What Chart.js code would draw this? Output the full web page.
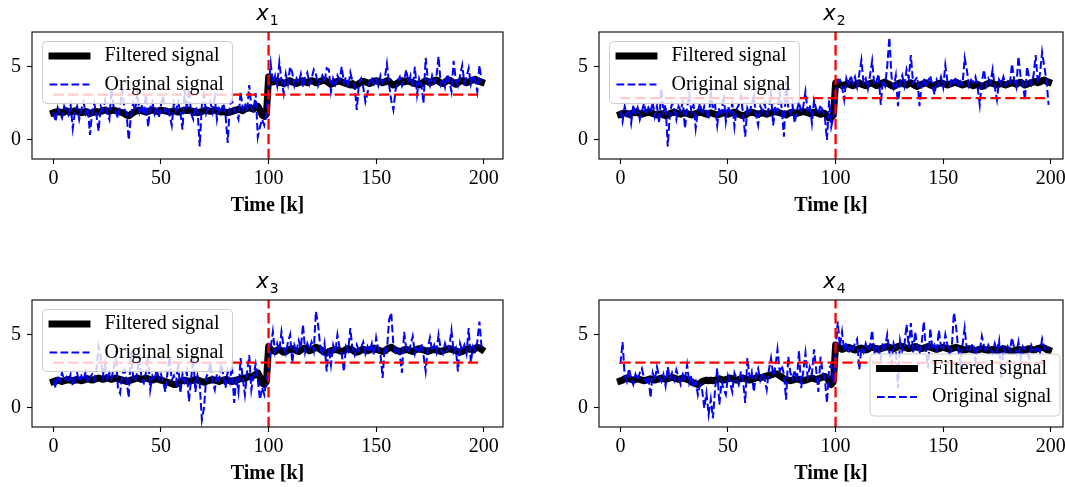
<!DOCTYPE html>
<html><head><meta charset="utf-8">
<script src="https://cdn.jsdelivr.net/npm/chart.js@4"></script>
<style>
html,body{margin:0;padding:0;background:#fff;overflow:hidden;}
#wrap{position:relative;width:1065px;height:487px;overflow:hidden;background:#fff;}
.cv{position:absolute;width:540px;height:243px;}
</style></head><body>
<div id="wrap">
<canvas id="c1" class="cv" width="540" height="243" style="left:0px;top:0px"></canvas>
<canvas id="c2" class="cv" width="540" height="243" style="left:567px;top:0px"></canvas>
<canvas id="c3" class="cv" width="540" height="243" style="left:0px;top:268px"></canvas>
<canvas id="c4" class="cv" width="540" height="243" style="left:567px;top:268px"></canvas>
</div>
<script>
// ---- data ----
const K = Array.from({length:200},(_, i)=>i);   // time index k
const X_TICKS = [0,50,100,150,200];
const Y_TICKS = [0,5];
const CHANGE_K = 100;
const THRESHOLDS = [3.1, 2.85, 3.1, 3.1];
const SUBSCRIPTS = ['1','2','3','4'];
const LEGEND_LABELS = ['Filtered signal','Original signal'];
const X_LABEL = 'Time [k]';

const f1 = [
1.85,1.9,1.95,1.9,1.85,1.9,2.0,1.95,1.9,1.95,
2.0,1.95,1.9,1.85,1.9,1.95,1.9,1.8,1.85,1.9,
1.95,1.9,1.95,2.0,2.05,2.0,1.95,2.0,2.05,2.0,
1.95,1.9,1.85,1.8,1.7,1.65,1.75,1.85,1.95,2.0,
2.05,2.0,1.95,1.9,1.95,2.0,2.05,2.0,1.95,2.0,
2.05,2.0,2.0,1.95,1.9,1.95,2.0,1.95,1.9,1.95,
2.0,2.05,2.0,2.05,2.0,1.95,1.9,1.85,1.9,1.95,
2.0,2.05,2.0,1.95,2.0,2.05,2.0,1.95,1.9,1.95,
1.9,1.85,1.9,1.95,2.0,2.05,2.1,2.05,2.0,2.1,
2.15,2.2,2.15,2.1,2.25,2.3,2.05,1.7,1.6,1.75,
4.3,4.1,3.95,4.0,4.05,3.9,3.95,3.85,3.9,4.0,
4.05,3.95,3.9,3.85,3.9,4.0,4.05,3.95,3.9,4.0,
4.05,4.0,3.9,3.95,4.0,4.05,4.1,4.0,3.9,3.8,
3.85,3.95,4.0,4.05,3.95,3.9,3.85,3.8,3.75,3.85,
3.7,3.75,3.85,3.95,4.0,3.95,3.9,3.85,3.95,4.0,
4.05,4.0,3.95,3.9,3.95,4.05,4.0,3.85,3.75,3.8,
3.9,4.0,4.05,3.95,4.0,4.05,3.95,3.9,3.85,3.8,
3.75,3.85,3.95,4.05,4.0,3.9,3.95,4.05,4.1,4.0,
3.9,3.85,3.95,4.05,4.1,4.0,3.9,3.8,3.9,4.0,
4.05,4.0,3.9,3.95,4.05,4.1,4.15,4.05,4.0,3.95];
const o1 = [
1.9,1.25,2.2,1.8,1.5,2.3,2.0,1.7,2.4,0.8,
1.9,2.3,1.4,2.1,2.6,1.8,2.2,0.35,1.9,2.5,
1.7,0.6,2.3,2.0,2.7,1.8,1.4,3.5,2.2,1.9,
1.5,2.4,3.4,2.1,1.8,0.0,1.6,2.5,2.0,3.2,
1.9,2.4,1.7,3.1,0.9,2.2,2.6,1.8,2.3,1.5,
2.4,3.0,1.9,2.2,1.7,1.0,2.5,2.0,2.6,1.9,
0.7,3.4,2.1,3.5,1.8,1.4,2.3,2.0,-0.45,2.4,
3.1,1.8,2.2,2.6,1.9,2.9,1.4,2.3,2.0,2.5,
1.7,-0.2,2.4,2.7,2.0,1.8,1.4,3.3,2.1,2.5,
1.9,3.75,2.2,2.0,3.2,0.2,0.9,1.4,1.0,1.8,
3.6,5.2,3.9,4.4,3.7,5.3,4.1,3.2,4.5,3.8,
5.0,4.6,3.7,4.2,3.9,4.5,3.6,4.3,4.6,3.8,
4.2,4.8,4.5,3.7,4.1,4.4,3.9,4.9,4.8,3.3,
4.2,3.8,4.4,4.1,5.0,3.9,4.3,3.6,4.6,4.0,
3.7,2.05,3.9,4.2,3.6,2.6,3.2,4.0,4.3,3.8,
4.1,3.7,4.4,3.9,4.2,5.2,3.8,2.7,2.05,3.4,
4.0,4.3,3.7,4.1,4.8,3.9,4.4,3.6,5.0,3.1,
4.2,3.8,2.5,5.6,4.1,3.7,4.4,3.9,4.3,5.7,
3.8,4.2,3.6,4.5,4.0,3.3,5.4,4.1,3.7,4.4,
5.1,3.9,4.3,4.9,3.8,4.4,4.1,3.3,5.1,4.0];
const f2 = [
1.75,1.8,1.85,1.8,1.75,1.8,1.85,1.9,1.85,1.8,
1.75,1.8,1.85,1.9,1.85,1.8,1.75,1.7,1.75,1.8,
1.7,1.65,1.7,1.8,1.85,1.9,1.85,1.8,1.75,1.8,
1.85,1.8,1.75,1.7,1.75,1.8,1.85,1.9,1.85,1.8,
1.75,1.8,1.85,1.8,1.75,1.7,1.75,1.8,1.85,1.8,
1.75,1.8,1.85,1.9,1.85,1.75,1.7,1.65,1.7,1.8,
1.85,1.9,1.85,1.8,1.75,1.8,1.85,1.8,1.75,1.8,
1.85,1.9,1.95,1.9,1.85,1.8,1.75,1.7,1.8,1.85,
1.9,1.85,1.8,1.85,1.9,1.95,1.9,1.85,1.8,1.85,
1.9,1.85,1.8,1.75,1.85,1.8,1.65,1.5,1.55,1.7,
3.9,3.95,3.8,3.7,3.75,3.8,3.85,3.75,3.7,3.75,
3.85,3.9,3.8,3.75,3.7,3.8,3.85,3.9,3.8,3.7,
3.75,3.85,3.9,3.95,3.85,3.8,3.7,3.65,3.75,3.85,
3.9,3.85,3.8,3.75,3.85,3.9,3.8,3.7,3.65,3.75,
3.8,3.85,3.9,3.85,3.75,3.7,3.75,3.8,3.85,3.9,
3.85,3.8,3.75,3.8,3.85,3.9,3.95,3.85,3.8,3.75,
3.8,3.85,3.8,3.75,3.7,3.75,3.8,3.7,3.65,3.7,
3.8,3.85,3.9,3.85,3.8,3.75,3.8,3.85,3.8,3.75,
3.8,3.85,3.9,3.85,3.8,3.9,3.95,3.85,3.75,3.8,
3.85,3.9,3.95,4.0,3.9,3.95,4.05,4.1,4.0,3.95];
const o2 = [
2.0,1.25,2.3,1.7,2.1,1.15,2.4,1.8,2.2,1.4,
2.0,2.5,1.7,2.2,1.9,2.6,1.6,2.3,1.15,3.5,
1.9,2.4,-0.45,1.8,2.5,2.1,1.4,2.3,2.0,2.6,
0.8,2.2,3.1,1.9,2.4,0.8,2.0,2.5,1.7,2.3,
1.9,1.4,3.2,2.1,2.4,1.0,2.2,1.8,3.1,1.25,
2.3,1.9,2.5,0.9,2.1,2.4,3.0,1.8,0.23,2.2,
1.9,2.4,3.0,1.7,1.0,2.3,2.0,2.5,1.8,2.2,
3.2,1.0,2.3,1.9,3.3,2.1,0.23,4.0,2.2,1.8,
2.4,1.15,2.0,2.6,1.9,2.3,3.3,2.0,2.4,1.15,
2.7,2.1,1.8,2.4,2.0,1.6,0.0,2.7,0.9,1.6,
3.4,4.0,4.1,3.6,2.75,4.2,3.7,4.4,3.9,4.3,
3.6,4.5,5.45,3.9,4.2,3.5,4.4,5.4,3.8,4.0,
4.5,2.4,4.1,3.7,5.0,7.0,4.3,3.6,4.4,2.3,
3.9,4.4,3.7,4.8,4.2,5.8,3.9,4.1,4.3,2.3,
3.8,4.2,3.6,4.0,4.4,3.7,3.1,4.1,3.8,4.3,
3.6,5.1,4.0,3.7,4.2,3.9,4.3,3.6,4.0,3.8,
5.6,4.8,3.7,4.1,3.9,4.3,3.6,2.4,4.0,4.8,
3.7,4.2,3.9,4.8,3.6,2.75,4.1,3.8,4.3,3.7,
4.0,3.8,5.2,4.1,3.6,5.7,4.3,3.9,2.75,5.0,
4.2,3.8,4.4,5.8,3.9,4.5,6.0,5.0,4.1,2.4];
const f3 = [
1.8,1.85,1.9,1.85,1.8,1.85,1.9,1.95,1.9,1.85,
1.9,1.95,1.9,1.85,1.9,1.95,2.0,1.95,1.9,1.95,
2.0,2.05,2.0,1.95,2.0,2.05,2.0,1.95,2.0,2.05,
2.0,1.95,1.9,1.85,1.8,1.85,1.9,1.95,2.0,2.05,
2.0,1.95,2.0,2.05,2.0,1.95,1.9,1.95,2.0,1.95,
1.9,1.85,1.8,1.75,1.7,1.65,1.6,1.6,1.7,1.8,
1.85,1.9,1.85,1.8,1.85,1.9,1.95,1.9,1.85,1.8,
1.75,1.8,1.85,1.9,1.95,1.9,1.85,1.8,1.85,1.9,
1.95,1.9,1.85,1.8,1.85,1.9,1.95,2.0,2.05,2.0,
2.1,2.15,2.1,2.2,2.3,2.4,2.1,1.7,1.6,1.8,
4.2,4.0,3.9,3.85,3.95,4.0,3.9,3.8,3.85,3.95,
4.0,4.05,3.95,3.9,3.85,3.95,4.05,4.1,4.0,3.9,
3.95,4.05,4.15,4.1,4.0,3.9,3.8,3.75,3.85,3.9,
3.95,4.0,3.95,3.9,3.85,3.9,4.0,4.05,4.0,3.95,
3.85,3.8,3.85,3.95,4.0,3.95,3.9,3.95,4.05,4.1,
4.0,3.95,3.9,3.85,3.9,4.0,4.1,4.15,4.05,3.95,
3.9,3.85,3.9,3.95,4.0,3.95,3.9,3.85,3.95,4.0,
4.05,4.0,3.95,3.9,3.85,3.9,3.95,4.0,3.95,3.9,
3.85,3.9,3.95,4.0,4.05,4.0,3.95,3.9,3.85,3.8,
3.85,3.95,4.0,4.05,4.0,3.95,4.05,4.15,4.1,4.0];
const o3 = [
1.9,1.36,2.2,1.8,2.4,1.9,2.1,1.7,2.3,1.5,
2.0,2.4,1.8,2.2,1.9,2.5,1.7,2.1,2.3,1.9,
2.6,4.2,3.5,2.2,3.0,1.8,2.4,2.0,2.7,3.75,
1.36,1.0,2.3,2.6,1.9,0.7,3.86,2.2,1.8,2.5,
3.4,2.0,1.7,2.4,3.6,1.25,2.2,1.9,2.6,2.0,
2.3,1.8,1.1,2.4,3.5,1.9,2.2,1.7,3.1,1.0,
2.3,1.8,2.5,0.45,2.0,3.4,1.1,2.2,1.6,-0.8,
0.0,2.1,2.4,3.1,1.8,1.25,2.3,1.9,3.0,2.2,
1.36,2.5,1.8,2.9,0.34,2.1,1.1,3.4,2.0,0.9,
2.4,3.6,1.25,2.2,3.0,1.9,0.57,1.4,0.9,1.8,
2.75,4.1,5.2,3.8,4.4,3.9,5.2,4.2,3.7,4.5,
5.0,3.1,4.3,3.9,4.6,4.1,5.7,3.8,4.4,4.0,
4.5,3.9,6.6,5.7,4.2,3.6,4.4,2.5,4.1,2.95,
4.3,3.8,5.0,4.1,3.7,2.5,4.2,3.9,5.45,4.0,
3.6,4.3,3.9,4.1,4.5,3.7,4.2,3.8,4.4,3.6,
4.8,4.0,3.7,2.05,4.2,3.9,6.0,6.5,4.3,3.8,
4.1,3.6,2.4,5.2,4.0,3.8,4.3,4.9,3.7,4.2,
3.9,4.4,3.6,2.5,4.1,4.8,3.9,4.3,3.8,5.0,
4.0,3.7,4.4,3.9,4.2,5.3,3.8,4.1,2.5,4.4,
3.9,4.3,3.7,5.45,3.1,4.2,3.9,4.5,5.9,4.1];
const f4 = [
1.85,1.9,2.0,2.05,2.0,1.95,1.9,1.95,2.0,1.95,
1.9,1.85,1.9,1.95,2.0,1.95,1.9,1.95,2.0,2.05,
2.0,1.95,2.0,2.05,2.1,2.05,2.0,1.95,2.0,2.05,
2.0,1.95,1.9,1.8,1.7,1.65,1.6,1.7,1.8,1.85,
1.9,1.85,1.9,1.85,1.9,1.95,2.0,1.95,1.9,1.95,
2.0,2.05,2.0,1.95,1.9,1.95,2.0,2.05,2.0,1.95,
1.9,1.95,2.0,2.05,2.1,2.05,2.1,2.15,2.2,2.2,
2.25,2.3,2.35,2.3,2.2,2.1,2.0,1.95,1.9,1.85,
1.9,1.95,2.0,1.95,1.9,1.85,1.9,1.95,2.0,2.05,
2.0,1.95,2.0,2.05,2.1,2.15,2.05,1.8,1.6,1.8,
4.3,4.2,4.1,4.0,4.05,4.1,4.15,4.1,4.0,3.95,
4.0,4.05,4.1,4.0,3.95,4.0,4.1,4.15,4.1,4.05,
4.0,4.05,4.1,4.15,4.2,4.15,4.1,4.05,4.1,4.2,
4.25,4.2,4.15,4.1,4.05,4.1,4.15,4.2,4.15,4.1,
4.05,4.1,4.15,4.2,4.15,4.1,4.05,4.0,4.05,4.1,
4.15,4.1,4.05,4.0,4.05,4.1,4.15,4.1,4.05,4.0,
3.95,4.0,4.05,4.0,3.95,3.9,3.95,4.0,4.05,4.0,
3.95,3.9,3.95,4.0,3.95,3.9,3.95,4.0,4.05,4.0,
3.95,3.9,3.85,3.9,3.95,4.0,3.95,3.9,3.95,4.0,
4.05,4.0,3.95,4.0,4.05,4.1,4.15,4.1,4.0,3.95];
const o4 = [
3.0,4.5,2.2,1.8,2.7,2.0,1.6,2.3,1.9,2.4,
2.7,2.0,1.8,2.2,0.7,2.4,1.9,2.8,2.1,1.8,
2.3,1.5,2.8,2.0,2.4,1.9,2.6,2.1,1.6,2.3,
2.0,2.95,1.7,2.2,1.4,1.8,0.9,1.6,1.2,0.0,
1.0,-0.45,0.6,-0.7,1.3,2.7,0.23,1.8,1.3,0.9,
2.2,1.7,1.1,2.4,2.0,1.6,2.5,1.9,0.34,3.4,
2.1,2.5,1.1,2.3,2.7,1.9,2.4,2.0,1.25,2.6,
3.4,2.2,2.8,4.0,2.5,2.9,2.3,0.57,3.5,2.4,
2.0,2.6,1.8,3.9,1.36,2.5,3.75,2.1,2.8,2.3,
4.0,2.6,1.1,3.5,2.4,2.0,0.34,2.7,2.95,1.7,
3.8,5.9,4.2,5.2,3.9,4.5,3.7,4.3,4.0,4.4,
4.7,2.6,4.1,3.8,4.4,3.9,4.2,5.3,3.7,4.3,
4.0,3.3,4.5,4.1,5.0,3.8,3.0,4.4,4.0,1.36,
4.6,3.9,4.3,5.7,4.1,5.8,3.8,5.2,4.2,3.7,
4.4,5.9,3.9,2.7,5.45,4.0,4.3,3.8,5.3,4.2,
3.9,5.0,4.3,3.7,4.1,6.5,5.57,4.0,3.1,4.3,
5.45,4.0,3.8,4.2,4.4,3.2,4.1,3.9,4.9,4.2,
3.8,4.3,4.0,3.7,4.4,3.9,4.6,2.05,4.1,3.8,
4.2,3.9,4.8,4.1,3.7,4.5,3.3,4.2,4.0,3.8,
3.4,4.3,4.0,3.9,4.2,3.8,4.7,4.1,3.9,4.2];

// ---- styling ----
const SERIF = "'Liberation Serif','Times New Roman',serif";
const X_MIN = -9.95, Y_MIN = -1.3, Y_MAX = 7.37;

const decor = {
  id: 'decor',
  afterDraw(chart, args, opts) {
    const {ctx, chartArea: a} = chart;
    ctx.save();
    // axes frame
    ctx.strokeStyle = '#000'; ctx.lineWidth = 1.1; ctx.setLineDash([]);
    ctx.strokeRect(a.left, a.top, a.right - a.left, a.bottom - a.top);
    // legend
    const w = 190, h = 62;
    let bx, by;
    if (opts.legendPos === 'ul') { bx = a.left + 10.5; by = a.top + 9.5; }
    else { bx = a.right - 3 - w; by = a.bottom - 11 - h; }
    ctx.beginPath();
    ctx.roundRect(bx, by, w, h, 4);
    ctx.fillStyle = 'rgba(255,255,255,0.8)'; ctx.fill();
    ctx.strokeStyle = '#cccccc'; ctx.lineWidth = 1; ctx.stroke();
    const r1 = by + 14.5, r2 = by + 43;
    ctx.beginPath(); ctx.lineCap = 'square'; ctx.strokeStyle = '#000'; ctx.lineWidth = 6.9;
    ctx.moveTo(bx + 9.5, r1); ctx.lineTo(bx + 44.5, r1); ctx.stroke();
    ctx.beginPath(); ctx.lineCap = 'butt'; ctx.strokeStyle = '#0000ff'; ctx.lineWidth = 2;
    ctx.setLineDash([7.7, 3.3]);
    ctx.moveTo(bx + 7, r2); ctx.lineTo(bx + 47, r2); ctx.stroke();
    ctx.setLineDash([]);
    ctx.fillStyle = '#000'; ctx.font = "20px " + SERIF; ctx.textBaseline = 'middle'; ctx.textAlign = 'left';
    ctx.fillText(LEGEND_LABELS[0], bx + 62, r1);
    ctx.fillText(LEGEND_LABELS[1], bx + 62, r2);
    // title x_n
    const cx = opts.titleX;
    ctx.textBaseline = 'alphabetic';
    ctx.font = "italic 21px 'DejaVu Sans'";
    const wx = ctx.measureText('x').width;
    ctx.font = "14px 'DejaVu Sans'";
    const ws = ctx.measureText(opts.sub).width;
    const x0 = cx - (wx + ws + 1) / 2;
    ctx.font = "italic 21px 'DejaVu Sans'";
    ctx.fillText('x', x0, a.top - 12);
    ctx.font = "14px 'DejaVu Sans'";
    ctx.fillText(opts.sub, x0 + wx + 1, a.top - 7);
    ctx.restore();
  }
};

// right column: the picture ends at the right spine, so its axes are a bit narrower
function makeChart(id, filtered, original, thr, sub, legendPos, rightPad, xMax) {
  const gridOpts = {display: true, drawOnChartArea: false, drawTicks: true, tickLength: 5, tickColor: '#000', tickWidth: 1.1};
  return new Chart(document.getElementById(id), {
    type: 'line',
    data: {
      datasets: [
        {label: 'vline', data: [{x: CHANGE_K, y: Y_MIN}, {x: CHANGE_K, y: Y_MAX}], borderColor: '#ff0000', borderWidth: 2.3, borderDash: [10.3, 4.5], pointRadius: 0, order: 1},
        {label: 'hline', data: [{x: K[0], y: thr}, {x: K[K.length - 1], y: thr}], borderColor: '#ff0000', borderWidth: 2.3, borderDash: [10.3, 4.5], pointRadius: 0, order: 1},
        {label: LEGEND_LABELS[1], data: K.map((k, i) => ({x: k, y: original[i]})), borderColor: '#0000ff', borderWidth: 2, borderDash: [7.7, 3.3], pointRadius: 0, order: 2},
        {label: LEGEND_LABELS[0], data: K.map((k, i) => ({x: k, y: filtered[i]})), borderColor: '#000000', borderWidth: 6.9, borderCapStyle: 'square', borderJoinStyle: 'round', pointRadius: 0, order: 3}
      ]
    },
    options: {
      responsive: false, animation: false, devicePixelRatio: 1,
      layout: {padding: {left: 0, top: 32, right: rightPad, bottom: 21}},
      plugins: {legend: {display: false}, tooltip: {enabled: false}, title: {display: false}, decor: {sub, legendPos, titleX: 267.5}},
      elements: {line: {tension: 0, fill: false}},
      scales: {
        x: {
          type: 'linear', min: X_MIN, max: xMax,
          afterBuildTicks: s => { s.ticks = X_TICKS.map(v => ({value: v})); },
          afterFit: s => { s.height = 63; s.paddingLeft = 0; s.paddingRight = 0; },
          grid: gridOpts, border: {display: false},
          ticks: {color: '#000', font: {family: SERIF, size: 20}, padding: 3, maxRotation: 0, autoSkip: false},
          title: {display: true, text: X_LABEL, color: '#000', font: {family: SERIF, size: 20, weight: 'bold'}, padding: {top: 4, bottom: 4}}
        },
        y: {
          type: 'linear', min: Y_MIN, max: Y_MAX,
          afterBuildTicks: s => { s.ticks = Y_TICKS.map(v => ({value: v})); },
          afterFit: s => { s.width = 32; s.paddingTop = 0; s.paddingBottom = 0; },
          grid: gridOpts, border: {display: false},
          ticks: {color: '#000', font: {family: SERIF, size: 20}, padding: 6}
        }
      }
    },
    plugins: [decor]
  });
}

makeChart('c1', f1, o1, THRESHOLDS[0], SUBSCRIPTS[0], 'ul', 37, 208.95);
makeChart('c2', f2, o2, THRESHOLDS[1], SUBSCRIPTS[1], 'ul', 44, 205.7);
makeChart('c3', f3, o3, THRESHOLDS[2], SUBSCRIPTS[2], 'ul', 37, 208.95);
makeChart('c4', f4, o4, THRESHOLDS[3], SUBSCRIPTS[3], 'lr', 44, 205.7);
</script>
</body></html>
